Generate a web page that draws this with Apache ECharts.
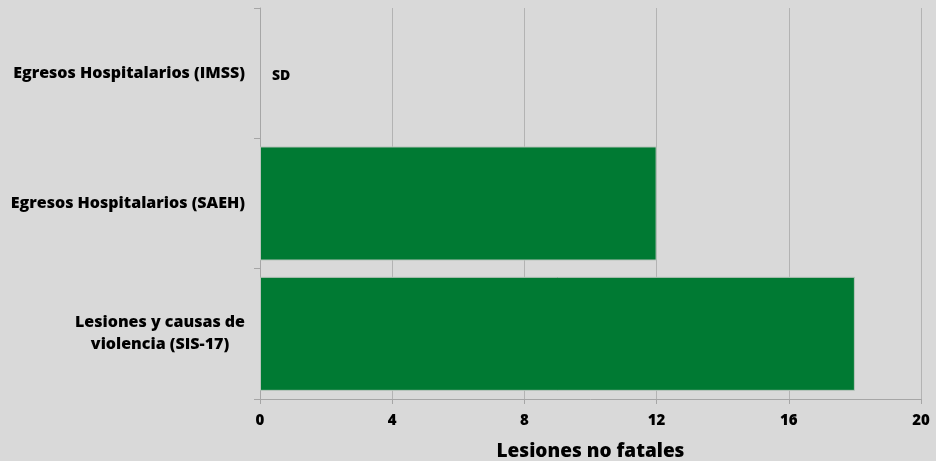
<!DOCTYPE html>
<html>
<head>
<meta charset="utf-8">
<script src="https://cdn.jsdelivr.net/npm/echarts@6/dist/echarts.min.js"></script>
<style>
html,body{margin:0;padding:0;background:#d9d9d9;}
#c{width:936px;height:461px;}
</style>
</head>
<body>
<div id="c"></div>
<script>
var categories = ['Lesiones y causas de\nviolencia (SIS-17)', 'Egresos Hospitalarios (SAEH)', 'Egresos Hospitalarios (IMSS)'];
var values = [18, 12, null];
var valueLabels = ['', '', 'SD'];
var xTicks = [0, 4, 8, 12, 16, 20];
var xAxisTitle = 'Lesiones no fatales';

var FONT = '"Open Sans", sans-serif';
var chart = echarts.init(document.getElementById('c'), null, {renderer: 'canvas'});
var seriesData = values.map(function (v, i) {
  if (v === null) {
    return {value: 0, itemStyle: {color: 'rgba(0,0,0,0)', borderWidth: 0}, label: {show: true, formatter: valueLabels[i]}};
  }
  return {value: v};
});
chart.setOption({
  backgroundColor: '#d9d9d9',
  animation: false,
  grid: {left: 260, right: 15, top: 8, bottom: 62, containLabel: false, outerBoundsMode: 'none'},
  xAxis: {
    type: 'value',
    min: xTicks[0],
    max: xTicks[xTicks.length - 1],
    interval: xTicks[1] - xTicks[0],
    name: xAxisTitle,
    nameLocation: 'middle',
    nameGap: 43,
    nameTextStyle: {fontFamily: FONT, fontWeight: 800, fontSize: 19, color: '#000'},
    axisLine: {show: true, lineStyle: {color: '#a6a6a6', width: 1}},
    axisTick: {show: true, length: 5, lineStyle: {color: '#a6a6a6'}},
    axisLabel: {fontFamily: FONT, fontWeight: 800, fontSize: 15, color: '#000', margin: 14},
    splitLine: {show: true, lineStyle: {color: '#b3b3b3', width: 1}}
  },
  yAxis: {
    type: 'category',
    data: categories,
    axisLine: {show: true, lineStyle: {color: '#a6a6a6', width: 1}},
    axisTick: {show: true, length: 6, lineStyle: {color: '#a6a6a6'}},
    axisLabel: {
      fontFamily: FONT, fontWeight: 800, fontSize: 16, color: '#000', margin: 15, lineHeight: 22, align: 'right',
      formatter: function (v) {
        if (v.indexOf('\n') < 0) return v;
        return v.split('\n').map(function (l) { return '{c|' + l + '}'; }).join('\n');
      },
      rich: {c: {fontFamily: FONT, fontWeight: 800, fontSize: 16, color: '#000', lineHeight: 22, width: 170, align: 'center'}}
    },
    splitLine: {show: false}
  },
  series: [{
    type: 'bar',
    data: seriesData,
    barCategoryGap: '12.5%',
    itemStyle: {color: '#007a33', borderColor: '#b9c4bc', borderWidth: 1},
    label: {show: false, position: 'right', distance: 12, fontFamily: FONT, fontWeight: 800, fontSize: 14, color: '#000', offset: [0, 3]}
  }]
});
</script>
</body>
</html>
